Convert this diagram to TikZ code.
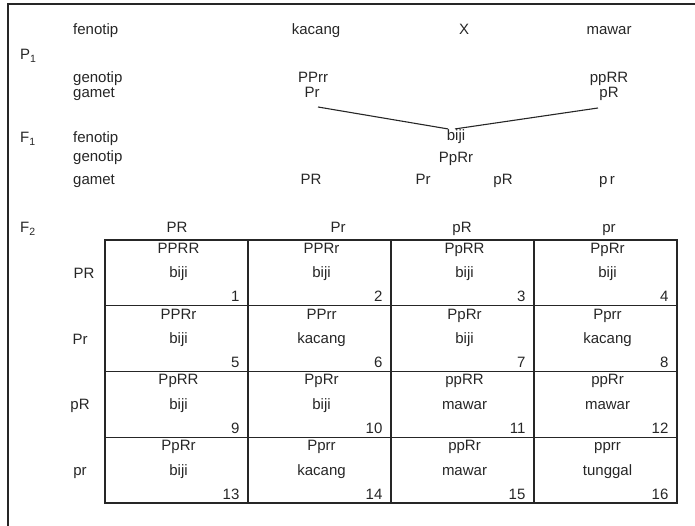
\documentclass[tikz,border=0pt]{standalone}
\usepackage{fontspec}
\setmainfont{Liberation Sans}
\begin{document}
\begin{tikzpicture}[x=1pt,y=-1pt,
  lbl/.style={font=\fontsize{15}{17}\selectfont, inner sep=0pt, text=black!85, anchor=base},
  leftlbl/.style={lbl, anchor=base west},
  cellbox/.style={draw=black!85, line width=1.2pt, minimum width=143pt, minimum height=65.75pt, inner sep=0pt},
  frameline/.style={draw=black!85, line width=1.5pt},
  cross/.style={draw=black!85, line width=1.1pt}]
\useasboundingbox (0,0) rectangle (695,526);
% frame
\coordinate (ftl) at (8,4);
\coordinate (ftr) at (695,4);
\coordinate (fbl) at (8,526);
\draw[frameline] (fbl) -- (ftl) -- (ftr);
% P1 block
\node[leftlbl] (P1) at (20,60) {P\textsubscript{1}};
\node[leftlbl] (fen1) at (73,35) {fenotip};
\node[leftlbl] (gen1) at (73,83) {genotip};
\node[leftlbl] (gam1) at (73,98) {gamet};
\node[lbl] (kac) at (316,35) {kacang};
\node[lbl] (X) at (464,35) {X};
\node[lbl] (maw) at (609,35) {mawar};
\node[lbl] (PPrr) at (313,83) {PPrr};
\node[lbl] (ppRR) at (609,83) {ppRR};
\node[lbl] (gPr) at (312,98) {Pr};
\node[lbl] (gpR) at (609,98) {pR};
% F1 block
\node[leftlbl] (F1) at (20,143) {F\textsubscript{1}};
\node[leftlbl] (fen2) at (73,143) {fenotip};
\node[leftlbl] (gen2) at (73,162) {genotip};
\node[leftlbl] (gam2) at (73,185) {gamet};
\node[lbl] (biji) at (456,141) {biji};
\node[lbl] (PpRr) at (456,163) {PpRr};
\node[lbl] (gPR2) at (311,185) {PR};
\node[lbl] (gPr2) at (423,185) {Pr};
\node[lbl] (gpR2) at (503,185) {pR};
\node[lbl] (gpr2) at (607,185) {p\,r};
\coordinate (c1) at (318,107);
\coordinate (c2) at (598,108);
\draw[cross] (c1) -- ([xshift=-8pt,yshift=1pt]biji.north);
\draw[cross] (c2) -- ([xshift=-1pt,yshift=1pt]biji.north);
% F2
\node[leftlbl] (F2) at (20,233) {F\textsubscript{2}};
\node[lbl] (hPR) at (177,233) {PR};
\node[lbl] (hPr) at (338,233) {Pr};
\node[lbl] (hpR) at (462,233) {pR};
\node[lbl] (hpr) at (609,233) {pr};
\node[lbl] (rPR) at (84,278) {PR};
\node[lbl] (rPr) at (80,344) {Pr};
\node[lbl] (rpR) at (80,409) {pR};
\node[lbl] (rpr) at (80,475) {pr};
\foreach \g/\p [count=\i from 0] in {PPRR/biji,PPRr/biji,PpRR/biji,PpRr/biji,
  PPRr/biji,PPrr/kacang,PpRr/biji,Pprr/kacang,
  PpRR/biji,PpRr/biji,ppRR/mawar,ppRr/mawar,
  PpRr/biji,Pprr/kacang,ppRr/mawar,pprr/tunggal}{
  \pgfmathtruncatemacro{\col}{mod(\i,4)}
  \pgfmathtruncatemacro{\row}{div(\i,4)}
  \pgfmathtruncatemacro{\num}{\i+1}
  \node[cellbox] (cell\num) at ({105+143*\col+71.5},{240+65.75*\row+32.875}) {};
  \node[lbl] (geno\num) at ([xshift=2pt,yshift=19.5pt]cell\num.center) {\g};
  \node[lbl] (phen\num) at ([xshift=2pt,yshift=-5pt]cell\num.center) {\p};
  \node[lbl, anchor=base east] (num\num) at ([xshift=-9pt,yshift=-29pt]cell\num.east) {\num};
}
\end{tikzpicture}
\end{document}
